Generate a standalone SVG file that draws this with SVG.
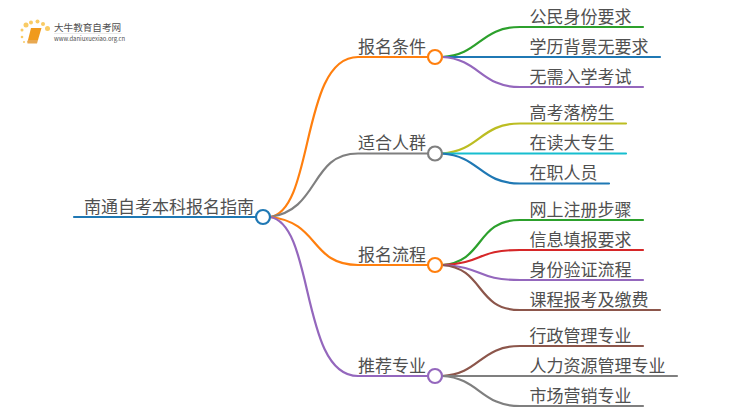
<svg xmlns="http://www.w3.org/2000/svg" width="750" height="410" viewBox="0 0 750 410">
<style>
text{font-family:"Noto Sans CJK SC","Liberation Sans",sans-serif;fill:#505050}
.t{font-size:17px}
.c{fill:none;stroke-width:2.2;stroke-linecap:round}
.n{fill:#fff;stroke-width:2.2}
</style>
<rect width="750" height="410" fill="#fff"/>
<g id="logo">
<g fill="#f8c24a" opacity=".85"><circle cx="26" cy="25" r="2.5"/><circle cx="31" cy="22.500" r="2"/><circle cx="37.500" cy="21.500" r="2"/><circle cx="43" cy="24" r="2"/><circle cx="47.500" cy="28.500" r="2.500"/><circle cx="22" cy="30" r="1.500"/><circle cx="22" cy="37" r="1.300"/><circle cx="24" cy="42" r="1"/></g>
<path d="M31 28H41.500L38 40H28Z" fill="#f09a1c"/><path d="M28 40H38L37 43.500H27.500Q26.500 41 28 40Z" fill="#e8a850"/>
<text x="54" y="31" font-size="9.600" fill="#444">大牛教育自考网</text>
<path d="M54 33.500H122" stroke="#ddd" stroke-width=".6"/>
<text x="54" y="41" font-size="5.900" font-family="Liberation Sans,sans-serif" fill="#777">www.daniuxuexiao.org.cn</text>
</g>
<g id="connectors">
<path class="c" stroke="#1f78b4" d="M74 217H256"/>
<path class="c" stroke="#ff7f0e" d="M270 217C315 210 300 57 358 57H428"/>
<path class="c" stroke="#7f7f7f" d="M270 217C320 210 310 153.500 358 153.500H428"/>
<path class="c" stroke="#ff7f0e" d="M270 217C320 222 310 265 358 265H428"/>
<path class="c" stroke="#9467bd" d="M270 217C315 224 300 376 358 376H428"/>
<path class="c" stroke="#2ca02c" d="M442 57C480 55 480 27 520 27H643"/>
<path class="c" stroke="#1f78b4" d="M442 57H660"/>
<path class="c" stroke="#9467bd" d="M442 57C480 59 480 87 520 87H643"/>
<path class="c" stroke="#bcbd22" d="M442 153.500C480 151 480 123.500 520 123.500H626"/>
<path class="c" stroke="#17becf" d="M442 153.500H626"/>
<path class="c" stroke="#1f78b4" d="M442 153.500C480 156 480 183.500 520 183.500H609"/>
<path class="c" stroke="#2ca02c" d="M442 265C485 262 475 220 520 220H643"/>
<path class="c" stroke="#d62728" d="M442 265C485 263 475 250 520 250H643"/>
<path class="c" stroke="#9467bd" d="M442 265C485 267 475 280 520 280H643"/>
<path class="c" stroke="#8c564b" d="M442 265C485 268 475 310 520 310H660"/>
<path class="c" stroke="#8c564b" d="M442 376C480 374 480 346 520 346H643"/>
<path class="c" stroke="#7f7f7f" d="M442 376H677"/>
<path class="c" stroke="#7f7f7f" d="M442 376C480 378 480 406 520 406H643"/>
</g>
<g id="root"><text class="t" x="84" y="212.500">南通自考本科报名指南</text><circle class="n" stroke="#1f78b4" cx="263" cy="217" r="7"/></g>
<g id="b1"><text class="t" x="358" y="52.500">报名条件</text><circle class="n" stroke="#ff7f0e" cx="435" cy="57" r="7"/></g>
<g id="b2"><text class="t" x="358" y="148.500">适合人群</text><circle class="n" stroke="#7f7f7f" cx="435" cy="153.500" r="7"/></g>
<g id="b3"><text class="t" x="358" y="260.500">报名流程</text><circle class="n" stroke="#ff7f0e" cx="435" cy="265" r="7"/></g>
<g id="b4"><text class="t" x="358" y="371.500">推荐专业</text><circle class="n" stroke="#9467bd" cx="435" cy="376" r="7"/></g>
<g id="l1"><text class="t" x="529.500" y="22.500">公民身份要求</text></g>
<g id="l2"><text class="t" x="529.500" y="52.500">学历背景无要求</text></g>
<g id="l3"><text class="t" x="529.500" y="82.500">无需入学考试</text></g>
<g id="l4"><text class="t" x="529.500" y="118.500">高考落榜生</text></g>
<g id="l5"><text class="t" x="529.500" y="148.500">在读大专生</text></g>
<g id="l6"><text class="t" x="529.500" y="178.500">在职人员</text></g>
<g id="l7"><text class="t" x="529.500" y="215.500">网上注册步骤</text></g>
<g id="l8"><text class="t" x="529.500" y="245.500">信息填报要求</text></g>
<g id="l9"><text class="t" x="529.500" y="275.500">身份验证流程</text></g>
<g id="l10"><text class="t" x="529.500" y="305.500">课程报考及缴费</text></g>
<g id="l11"><text class="t" x="529.500" y="341.500">行政管理专业</text></g>
<g id="l12"><text class="t" x="529.500" y="371.500">人力资源管理专业</text></g>
<g id="l13"><text class="t" x="529.500" y="401.500">市场营销专业</text></g>
</svg>
